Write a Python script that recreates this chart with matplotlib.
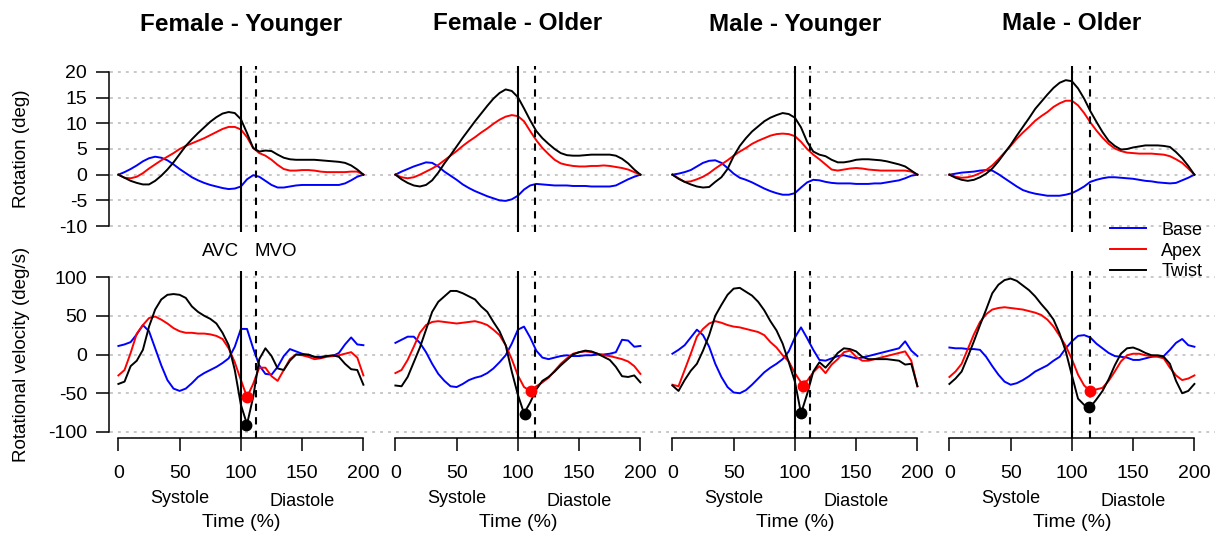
import numpy as np
import matplotlib
matplotlib.use('Agg')
import matplotlib.pyplot as plt
from matplotlib.lines import Line2D
from matplotlib.transforms import blended_transform_factory

plt.rcParams['font.family'] = ['Liberation Sans', 'DejaVu Sans']
plt.rcParams['axes.unicode_minus'] = False

# time in % of the cycle (0-100 systole, 100-200 diastole)
time = np.arange(0, 201, 5)

groups = ['Female - Younger', 'Female - Older', 'Male - Younger', 'Male - Older']
avc = [100, 100, 100, 100]
mvo = [112, 114, 112, 115]

# rotation (deg)
rot_base_fy = [0, 0.5, 1.1, 1.8, 2.6, 3.2, 3.5, 3.3, 2.8, 2.0, 1.1,
               0.3, -0.5, -1.1, -1.6, -2.0, -2.3, -2.6, -2.8, -2.7, -2.3,
               -0.9, -0.1, -0.4, -1.2, -2.0, -2.5, -2.5, -2.3, -2.1, -2.0,
               -2.0, -2.0, -2.0, -2.0, -2.0, -2.0, -1.7, -1.1, -0.4, 0]
rot_apex_fy = [0, -0.6, -0.7, -0.4, 0.3, 1.2, 2.0, 2.8, 3.5, 4.2, 5.0,
               5.6, 6.1, 6.6, 7.1, 7.7, 8.3, 8.9, 9.3, 9.3, 8.8,
               7.3, 5.2, 4.2, 3.7, 2.9, 1.9, 1.1, 0.8, 0.8, 0.9,
               0.9, 0.8, 0.6, 0.5, 0.5, 0.5, 0.5, 0.6, 0.6, 0]
rot_twist_fy = [0, -0.6, -1.2, -1.6, -1.9, -1.9, -1.2, -0.2, 1.0, 2.4, 4.0,
                5.6, 6.9, 8.1, 9.2, 10.3, 11.2, 11.9, 12.2, 12.0, 10.8,
                8.1, 5.2, 4.5, 4.7, 4.6, 3.9, 3.3, 3.0, 2.9, 2.9,
                2.9, 2.9, 2.8, 2.7, 2.6, 2.5, 2.3, 1.8, 1.0, 0]

rot_base_fo = [0, 0.6, 1.1, 1.6, 2.0, 2.4, 2.3, 1.6, 0.6, -0.2, -1.0,
               -1.9, -2.6, -3.2, -3.7, -4.2, -4.6, -5.0, -5.1, -4.8, -4.1,
               -2.9, -2.1, -1.8, -1.9, -2.0, -2.1, -2.1, -2.1, -2.2, -2.2,
               -2.2, -2.3, -2.3, -2.3, -2.3, -2.1, -1.5, -0.9, -0.4, 0]
rot_apex_fo = [0, -0.5, -0.7, -0.5, 0, 0.6, 1.2, 1.9, 2.8, 3.7, 4.6,
               5.6, 6.5, 7.3, 8.2, 9.0, 9.9, 10.7, 11.3, 11.6, 11.4,
               10.4, 8.5, 6.7, 5.2, 4.0, 2.9, 2.2, 1.9, 1.7, 1.6,
               1.6, 1.7, 1.7, 1.8, 1.7, 1.5, 1.3, 1.0, 0.5, 0]
rot_twist_fo = [0, -0.9, -1.6, -2.1, -2.3, -2.0, -1.1, 0.4, 2.2, 3.8, 5.5,
                7.2, 8.8, 10.4, 11.9, 13.4, 14.8, 15.9, 16.6, 16.3, 15.1,
                12.9, 10.6, 8.5, 7.1, 6.0, 5.0, 4.2, 3.8, 3.7, 3.7,
                3.8, 3.9, 3.9, 3.9, 3.9, 3.7, 3.1, 2.2, 1.0, 0]

rot_base_my = [0, 0.2, 0.5, 0.9, 1.6, 2.3, 2.7, 2.8, 2.3, 1.3, 0.2,
               -0.6, -1.0, -1.5, -2.1, -2.7, -3.2, -3.6, -3.9, -3.9, -3.6,
               -2.5, -1.5, -1.0, -1.1, -1.4, -1.6, -1.7, -1.7, -1.7, -1.8,
               -1.8, -1.8, -1.7, -1.7, -1.5, -1.3, -1.1, -0.7, -0.2, 0]
rot_apex_my = [0, -0.7, -1.4, -1.3, -0.9, -0.4, 0.3, 1.2, 2.0, 2.8, 3.7,
               4.5, 5.2, 6.0, 6.6, 7.1, 7.6, 7.9, 8.0, 7.9, 7.5,
               6.4, 5.0, 3.9, 3.0, 2.0, 1.0, 0.8, 1.0, 1.2, 1.3,
               1.2, 1.0, 0.9, 0.8, 0.8, 0.8, 0.8, 0.8, 0.6, 0]
rot_twist_my = [0, -0.8, -1.4, -1.9, -2.3, -2.5, -2.4, -1.4, -0.5, 1.1, 3.6,
                5.6, 7.1, 8.4, 9.4, 10.4, 11.1, 11.6, 12.0, 11.8, 11.1,
                9.2, 6.4, 4.5, 3.9, 3.6, 2.9, 2.4, 2.4, 2.6, 2.9,
                3.0, 3.0, 2.9, 2.8, 2.6, 2.3, 2.0, 1.6, 0.8, 0]

rot_base_mo = [0, 0.2, 0.4, 0.5, 0.6, 0.8, 0.9, 0.8, 0.1, -0.7, -1.5,
               -2.3, -3.0, -3.4, -3.7, -3.9, -4.1, -4.1, -4.1, -3.9, -3.6,
               -3.0, -2.3, -1.4, -1.0, -0.7, -0.5, -0.5, -0.6, -0.7, -0.8,
               -1.0, -1.2, -1.3, -1.5, -1.6, -1.7, -1.6, -1.1, -0.6, 0]
rot_apex_mo = [0, -0.4, -0.6, -0.5, -0.2, 0.3, 0.9, 1.8, 3.0, 4.3, 5.6,
               7.0, 8.2, 9.3, 10.5, 11.4, 12.2, 13.2, 13.9, 14.4, 14.4,
               13.5, 12.0, 10.2, 8.6, 7.2, 6.0, 5.1, 4.6, 4.3, 4.2,
               4.1, 4.1, 4.1, 4.0, 3.9, 3.6, 3.0, 2.3, 1.2, 0]
rot_twist_mo = [0, -0.6, -1.0, -1.2, -1.0, -0.5, 0.2, 1.2, 2.6, 4.2, 5.8,
                7.6, 9.3, 11.0, 12.8, 14.2, 15.6, 16.9, 17.9, 18.4, 18.2,
                16.8, 14.8, 12.4, 10.3, 8.3, 6.6, 5.6, 4.9, 5.0, 5.3,
                5.5, 5.7, 5.7, 5.7, 5.6, 5.4, 4.4, 3.2, 1.7, 0]

# rotational velocity (deg/s)
vel_base_fy = [11, 13, 16, 26, 38, 30, 8, -14, -33, -44, -47,
               -44, -37, -29, -24, -20, -16, -11, -5, 10, 33,
               33, 8, -14, -25, -26, -16, -2, 7, 4, 1,
               -1, -3, -3, -2, -2, 2, 13, 22, 13, 12]
vel_apex_fy = [-27, -20, 2, 27, 38, 47, 49, 45, 40, 34, 30,
               28, 28, 27, 27, 26, 24, 20, 8, -10, -33,
               -55, -38, -17, -17, -28, -34, -20, -6, 0, -1,
               -3, -6, -5, -3, -2, -1, 1, 3, -4, -27]
vel_twist_fy = [-38, -35, -15, -8, 6, 36, 58, 71, 77, 78, 77,
                73, 62, 55, 50, 46, 40, 28, 12, -20, -65,
                -90, -55, -6, 8, -2, -18, -20, -8, 0, 0,
                0, -3, -4, -2, -1, -3, -12, -19, -20, -39]

vel_base_fo = [15, 19, 23, 23, 15, 3, -12, -25, -34, -41, -42,
               -38, -33, -30, -28, -24, -18, -10, -1, 14, 32,
               36, 22, 5, -4, -6, -4, -2, -1, -2, -2,
               -1, -1, 0, 0, 1, 3, 19, 18, 10, 11]
vel_apex_fo = [-24, -20, -7, 10, 28, 38, 42, 43, 42, 41, 40,
               41, 42, 43, 41, 38, 32, 25, 12, -6, -27,
               -42, -47, -41, -36, -30, -21, -12, -5, 1, 3,
               4, 3, 1, -1, -2, -4, -6, -9, -15, -25]
vel_twist_fo = [-40, -41, -29, -10, 9, 32, 55, 68, 75, 82, 82,
                79, 75, 71, 62, 55, 42, 30, 12, -22, -52,
                -76, -62, -45, -34, -29, -22, -14, -7, 0, 3,
                5, 4, 1, -3, -7, -16, -28, -29, -27, -36]

vel_base_my = [1, 6, 12, 22, 32, 25, 10, -12, -29, -42, -49,
               -50, -46, -39, -31, -23, -17, -12, -6, 4, 22,
               35, 21, 6, -7, -8, -5, -2, -1, -3, -5,
               -4, -2, 0, 2, 4, 6, 8, 17, 5, -2]
vel_apex_my = [-39, -41, -20, 1, 23, 33, 40, 43, 41, 38, 36,
               35, 33, 31, 29, 25, 16, 9, -1, -9, -24,
               -36, -34, -23, -15, -24, -13, -6, 3, 5, -3,
               -8, -8, -6, -4, -2, 0, 2, 4, -8, -41]
vel_twist_my = [-40, -47, -33, -21, -12, 5, 25, 50, 64, 77, 85,
                86, 81, 76, 68, 57, 43, 31, 14, -10, -35,
                -76, -51, -22, -10, -17, -8, 2, 8, 7, 4,
                -3, -6, -6, -6, -6, -7, -8, -13, -12, -41]

vel_base_mo = [9, 8, 8, 7, 7, 6, -3, -15, -26, -35, -39,
               -37, -33, -28, -22, -18, -14, -8, -3, 8, 17,
               24, 25, 22, 14, 8, 2, -2, -3, -4, -7,
               -7, -5, -3, -2, -2, 6, 15, 20, 12, 10]
vel_apex_mo = [-29, -22, -12, 7, 26, 42, 52, 58, 60, 61, 60,
               59, 58, 56, 54, 51, 45, 36, 24, 11, -6,
               -26, -40, -47, -45, -43, -34, -22, -9, -1, 1,
               1, -1, -2, -3, -5, -17, -27, -33, -31, -27]
vel_twist_mo = [-38, -31, -22, -3, 17, 38, 58, 79, 90, 96, 98,
                95, 89, 83, 75, 65, 56, 45, 27, 4, -27,
                -57, -65, -68, -58, -47, -32, -14, 1, 8, 9,
                6, 2, -1, -1, -3, -12, -34, -50, -47, -38]

# peak negative velocities (dots)
min_t_apex = [105, 111, 107, 115]
min_v_apex = [-55, -47, -41, -47]
min_t_twist = [104, 106, 105, 114]
min_v_twist = [-91, -77, -76, -68]

rot = [(rot_base_fy, rot_apex_fy, rot_twist_fy), (rot_base_fo, rot_apex_fo, rot_twist_fo),
       (rot_base_my, rot_apex_my, rot_twist_my), (rot_base_mo, rot_apex_mo, rot_twist_mo)]
vel = [(vel_base_fy, vel_apex_fy, vel_twist_fy), (vel_base_fo, vel_apex_fo, vel_twist_fo),
       (vel_base_my, vel_apex_my, vel_twist_my), (vel_base_mo, vel_apex_mo, vel_twist_mo)]
colors = ['blue', 'red', 'black']

W, H = 1226, 538
fig = plt.figure(figsize=(W / 100, H / 100), dpi=100)


def box(x0, y0, x1, y1):
    return [x0 / W, 1 - y1 / H, (x1 - x0) / W, (y1 - y0) / H]


top_y = (65.8, 232.2)
bot_y = (270.8, 438.2)
lefts = [108.6, 385.6, 662.6, 939.6]
pw = 264.6
rot_lim = (-11.2, 21.2)
vel_lim = (-108, 108)
rot_ticks = [-10, -5, 0, 5, 10, 15, 20]
vel_ticks = [-100, -50, 0, 50, 100]

# dotted grid running across the whole row
for (y0, y1), lim, ticks in [(top_y, rot_lim, rot_ticks), (bot_y, vel_lim, vel_ticks)]:
    g = fig.add_axes(box(110, y0, 1215, y1))
    g.set_ylim(lim)
    g.axis('off')
    g.set_zorder(0)
    for v in ticks:
        g.axhline(v, color='#c4c4c4', lw=1.3, ls=(0, (1.6, 2.8)))

tick_kw = dict(direction='out', length=9.5, width=1.1, labelsize=14, color='black')

for i in range(4):
    axt = fig.add_axes(box(lefts[i], top_y[0], lefts[i] + pw, top_y[1]))
    axb = fig.add_axes(box(lefts[i], bot_y[0], lefts[i] + pw, bot_y[1]))
    for ax, data, lim in [(axt, rot[i], rot_lim), (axb, vel[i], vel_lim)]:
        ax.set_zorder(1)
        ax.patch.set_visible(False)
        for s in ax.spines.values():
            s.set_visible(False)
        for y, c in zip(data, colors):
            ax.plot(time, y, color=c, lw=1.4)
        ax.axvline(avc[i], color='black', lw=1.5)
        ax.axvline(mvo[i], color='black', lw=1.5, ls=(0, (3.5, 3)))
        ax.set_xlim(-8, 208)
        ax.set_ylim(lim)
        ax.set_xticks([])
        ax.set_yticks([])

    axb.plot(min_t_apex[i], min_v_apex[i], 'o', color='red', ms=7.5)
    axb.plot(min_t_twist[i], min_v_twist[i], 'o', color='black', ms=7.5)

    axb.spines['bottom'].set_visible(True)
    axb.spines['bottom'].set_bounds(0, 200)
    axb.spines['bottom'].set_linewidth(1.1)
    axb.set_xticks([0, 50, 100, 150, 200])
    axb.tick_params(axis='x', pad=10, **tick_kw)

    tr = blended_transform_factory(axb.transData, fig.transFigure)
    axb.text(50, 1 - 503 / H, 'Systole', transform=tr, ha='center', va='baseline', fontsize=13)
    axb.text(150, 1 - 506 / H, 'Diastole', transform=tr, ha='center', va='baseline', fontsize=13)
    axb.text(100, 1 - 527 / H, 'Time (%)', transform=tr, ha='center', va='baseline', fontsize=14)

    trt = blended_transform_factory(axt.transData, fig.transFigure)
    axt.text(100, 1 - 24 / H, groups[i], transform=trt, ha='center', va='center',
             fontsize=17.5, fontweight='bold')

    if i == 0:
        for ax, ticks in [(axt, rot_ticks), (axb, vel_ticks)]:
            ax.spines['left'].set_visible(True)
            ax.spines['left'].set_bounds(ticks[0], ticks[-1])
            ax.spines['left'].set_linewidth(1.1)
            ax.set_yticks(ticks)
            ax.tick_params(axis='y', pad=6, **tick_kw)
        axb.text(avc[i] - 1.5, 1 - 252 / H, 'AVC', transform=tr, ha='right', va='center', fontsize=13.5)
        axb.text(mvo[i] - 1, 1 - 252 / H, 'MVO', transform=tr, ha='left', va='center', fontsize=13.5)

fig.text(22 / W, 1 - 149 / H, 'Rotation (deg)', rotation=90, ha='center', va='center', fontsize=13.5)
fig.text(22 / W, 1 - 354.5 / H, 'Rotational velocity (deg/s)', rotation=90, ha='center', va='center',
         fontsize=13.5)

handles = [Line2D([], [], color=c, lw=1.4) for c in colors]
fig.legend(handles, ['Base', 'Apex', 'Twist'], loc='center left',
           bbox_to_anchor=(1110 / W, 1 - 251 / H), frameon=False, fontsize=13,
           handlelength=2.0, handletextpad=0.85, labelspacing=0.22, borderpad=0, borderaxespad=0)

fig.savefig('out.png', dpi=100)
